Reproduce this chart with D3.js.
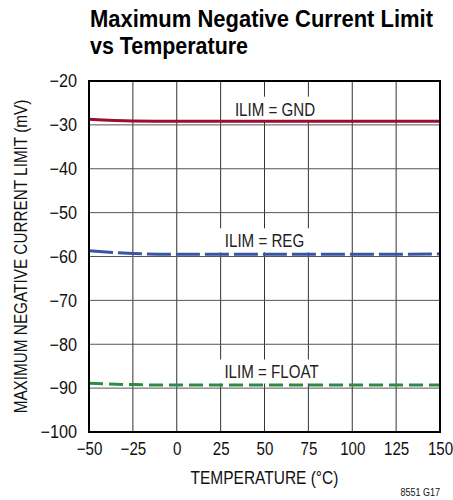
<!DOCTYPE html>
<html>
<head>
<meta charset="utf-8">
<script src="https://cdn.jsdelivr.net/npm/d3@7"></script>
<style>
  body { margin: 0; background: #fff; }
  text { font-family: "Liberation Sans", Arial, sans-serif; }
</style>
</head>
<body>
<div id="chart"></div>
<script>
// data
const temps = [-50, -25, 0, 25, 50, 75, 100, 125, 150]
const gnd = [-28.7, -29.1, -29.2, -29.2, -29.2, -29.2, -29.2, -29.2, -29.2]
const reg = [-58.7, -59.3, -59.5, -59.5, -59.5, -59.5, -59.5, -59.5, -59.4]
const float_ = [-88.9, -89.2, -89.3, -89.3, -89.3, -89.3, -89.3, -89.3, -89.3]
const x_ticks = [-50, -25, 0, 25, 50, 75, 100, 125, 150]
const y_ticks = [-20, -30, -40, -50, -60, -70, -80, -90, -100]

const series = [
    { name: "ILIM = GND", values: gnd, color: "#9b0d32", dash: null, label_at: 56, label_y: -27.9 },
    { name: "ILIM = REG", values: reg, color: "#3a54a4", dash: "24,5", label_at: 50, label_y: -57.9 },
    { name: "ILIM = FLOAT", values: float_, color: "#2e8b45", dash: "14,6", label_at: 54, label_y: -87.8 }
]

const width = 453, height = 500
const margin = { left: 89, right: 13, top: 81, bottom: 68 }

const svg = d3.select("#chart").append("svg")
    .attr("width", width)
    .attr("height", height)

const x = d3.scaleLinear().domain([-50, 150]).range([margin.left, width - margin.right])
const y = d3.scaleLinear().domain([-100, -20]).range([height - margin.bottom, margin.top])

const minus = v => String(v).replace("-", "\u2212")

// squeeze glyphs so Liberation Sans looks like a condensed face
function squeeze(sel, factor) {
    sel.each(function() {
        const w = this.getComputedTextLength()
        d3.select(this).attr("textLength", w * factor).attr("lengthAdjust", "spacingAndGlyphs")
    })
    return sel
}

// title
svg.append("text")
    .attr("x", 90).attr("y", 27)
    .attr("font-weight", "bold")
    .style("font-size", "23px")
    .attr("textLength", 343).attr("lengthAdjust", "spacingAndGlyphs")
    .text("Maximum Negative Current Limit")
svg.append("text")
    .attr("x", 90).attr("y", 54)
    .attr("font-weight", "bold")
    .style("font-size", "23px")
    .attr("textLength", 158).attr("lengthAdjust", "spacingAndGlyphs")
    .text("vs Temperature")

// grid
svg.append("g")
    .selectAll("line")
    .data(x_ticks.slice(1, -1))
    .join("line")
    .attr("x1", d => x(d)).attr("x2", d => x(d))
    .attr("y1", y(-20)).attr("y2", y(-100))
    .attr("stroke", "#333").attr("stroke-width", 1)

svg.append("g")
    .selectAll("line")
    .data(y_ticks.slice(1, -1))
    .join("line")
    .attr("x1", x(-50)).attr("x2", x(150))
    .attr("y1", d => y(d)).attr("y2", d => y(d))
    .attr("stroke", "#555").attr("stroke-width", 1)

// label boxes hide grid behind text
const labels = svg.append("g")
series.forEach(s => {
    const t = labels.append("text")
        .attr("x", x(s.label_at))
        .attr("y", y(s.label_y))
        .attr("text-anchor", "middle")
        .style("font-size", "18px")
        .attr("fill", "#222")
        .text(s.name)
    squeeze(t, 0.84)
    const bb = t.node().getBBox()
    labels.insert("rect", "text")
        .attr("x", bb.x - 6).attr("y", bb.y - 3)
        .attr("width", bb.width + 12).attr("height", bb.height + 4)
        .attr("fill", "#fff")
})

// curves
const line = d3.line()
    .x((d, i) => x(temps[i]))
    .y(d => y(d))
    .curve(d3.curveMonotoneX)

svg.append("g")
    .selectAll("path")
    .data(series)
    .join("path")
    .attr("d", d => line(d.values))
    .attr("fill", "none")
    .attr("stroke", d => d.color)
    .attr("stroke-width", 3)
    .attr("stroke-dasharray", d => d.dash)

// frame
svg.append("rect")
    .attr("x", x(-50)).attr("y", y(-20))
    .attr("width", x(150) - x(-50)).attr("height", y(-100) - y(-20))
    .attr("fill", "none").attr("stroke", "#000").attr("stroke-width", 2)

// axes
const x_axis = svg.append("g")
    .attr("transform", `translate(0, ${y(-100)})`)
    .attr("font-family", null).attr("font-size", null)
    .call(d3.axisBottom(x).tickValues(x_ticks).tickSize(0).tickPadding(10).tickFormat(minus))
x_axis.select(".domain").remove()
x_axis.selectAll("text").style("font-size", "18px").attr("fill", "#111")
squeeze(x_axis.selectAll("text"), 0.84)

const y_axis = svg.append("g")
    .attr("transform", `translate(${x(-50)}, 0)`)
    .attr("font-family", null).attr("font-size", null)
    .call(d3.axisLeft(y).tickValues(y_ticks).tickSize(0).tickPadding(12).tickFormat(minus))
y_axis.select(".domain").remove()
y_axis.selectAll("text").style("font-size", "18px").attr("fill", "#111")
squeeze(y_axis.selectAll("text"), 0.9)

squeeze(svg.append("text")
    .attr("x", (x(-50) + x(150)) / 2)
    .attr("y", 484)
    .attr("text-anchor", "middle")
    .style("font-size", "18px")
    .attr("fill", "#111")
    .text("TEMPERATURE (\u00B0C)"), 0.86)

squeeze(svg.append("text")
    .attr("transform", `translate(27, ${(y(-20) + y(-100)) / 2}) rotate(-90)`)
    .attr("text-anchor", "middle")
    .style("font-size", "18px")
    .attr("fill", "#111")
    .text("MAXIMUM NEGATIVE CURRENT LIMIT (mV)"), 0.85)

squeeze(svg.append("text")
    .attr("x", 440).attr("y", 496)
    .attr("text-anchor", "end")
    .style("font-size", "10px")
    .attr("fill", "#111")
    .text("8551 G17"), 0.9)
</script>
</body>
</html>
